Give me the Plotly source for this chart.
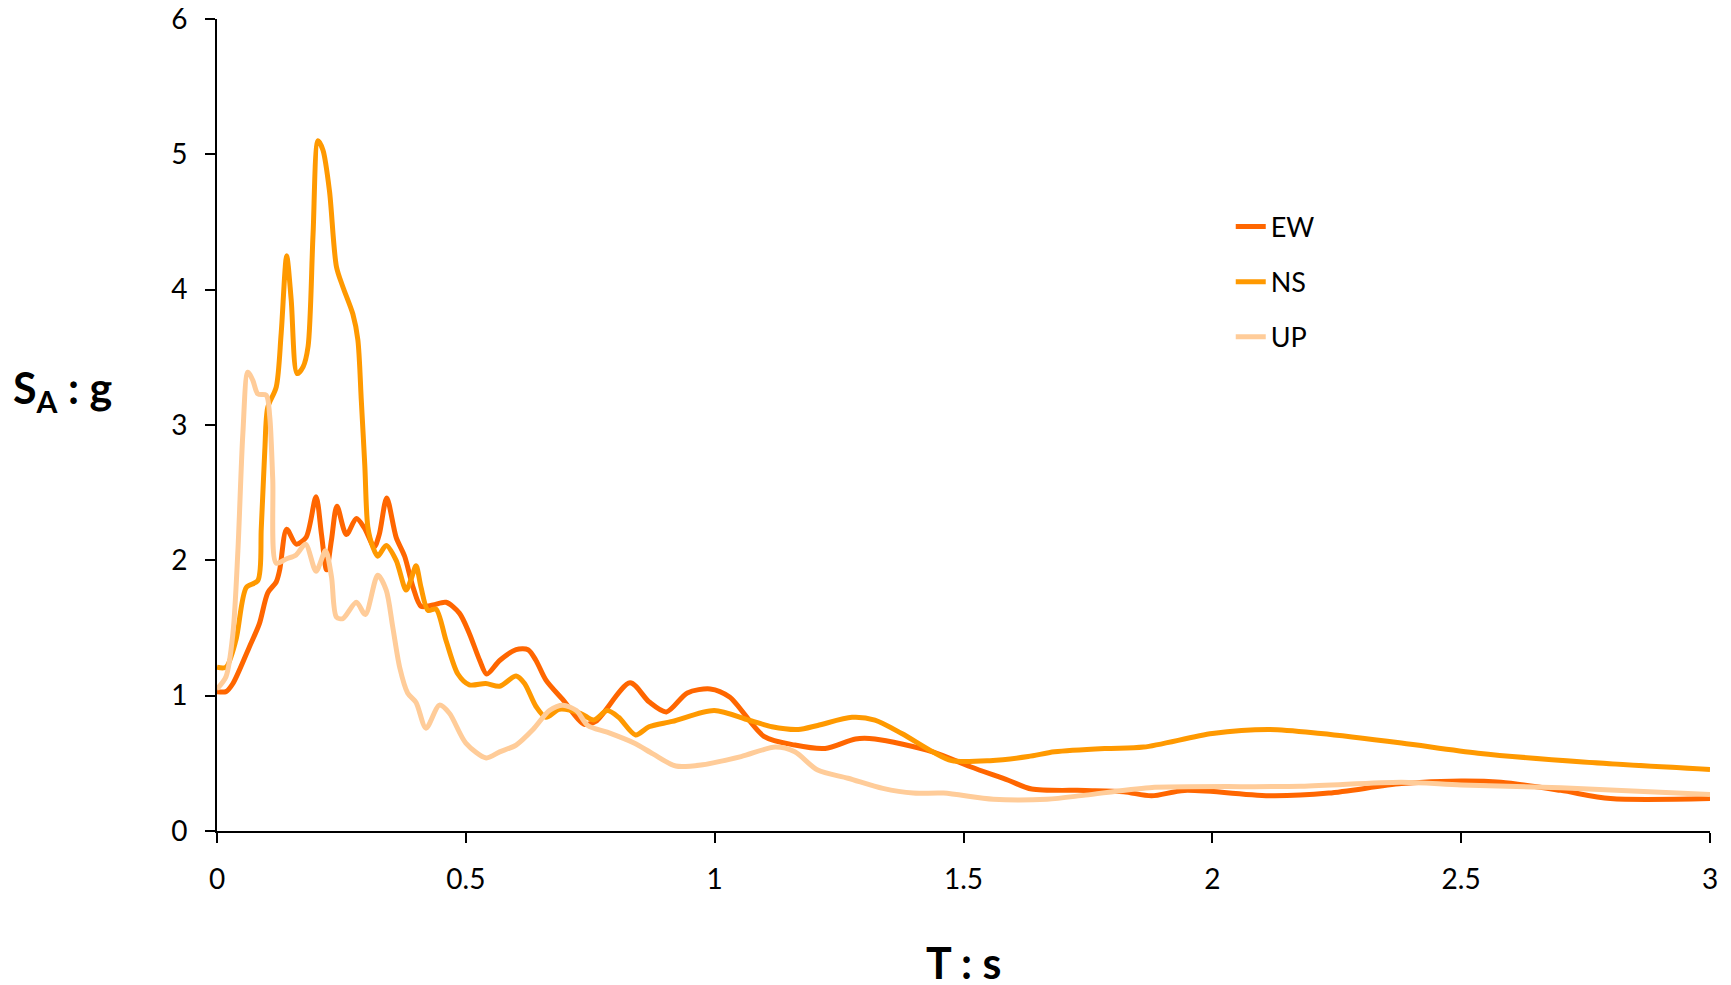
import plotly.graph_objects as go

# ---- data ----
ew_t = [0.0, 0.018, 0.032, 0.065, 0.085, 0.102, 0.119, 0.126, 0.14, 0.159, 0.179, 0.199, 0.21, 0.22, 0.23,
        0.241, 0.26, 0.28, 0.296, 0.316, 0.326, 0.341, 0.36, 0.377, 0.394, 0.41, 0.434, 0.46, 0.487, 0.507,
        0.528, 0.542, 0.568, 0.601, 0.625, 0.641, 0.661, 0.695, 0.737, 0.761, 0.83, 0.868, 0.903, 0.945,
        0.991, 1.03, 1.099, 1.161, 1.222, 1.283, 1.322, 1.438, 1.514, 1.59, 1.637, 1.745, 1.822, 1.878,
        1.944, 2.12, 2.234, 2.38, 2.5, 2.58, 2.7, 2.8, 3.0]
ew_sa = [1.03, 1.03, 1.09, 1.36, 1.53, 1.76, 1.84, 1.93, 2.23, 2.12, 2.17, 2.47, 2.19, 1.93, 2.15,
         2.40, 2.19, 2.31, 2.24, 2.10, 2.19, 2.46, 2.17, 2.03, 1.80, 1.66, 1.67, 1.69, 1.61, 1.46,
         1.26, 1.16, 1.26, 1.34, 1.34, 1.26, 1.115, 0.97, 0.79, 0.81, 1.095, 0.955, 0.88, 1.02,
         1.05, 0.99, 0.70, 0.635, 0.61, 0.68, 0.68, 0.585, 0.475, 0.375, 0.31, 0.30, 0.29, 0.26,
         0.30, 0.26, 0.28, 0.35, 0.37, 0.36, 0.30, 0.24, 0.24]

ns_t = [0.0, 0.018, 0.038, 0.059, 0.082, 0.089, 0.096, 0.102, 0.119, 0.129, 0.14, 0.149, 0.161, 0.173,
        0.183, 0.193, 0.203, 0.213, 0.226, 0.24, 0.253, 0.273, 0.283, 0.29, 0.297, 0.303, 0.313, 0.323,
        0.34, 0.36, 0.38, 0.39, 0.4, 0.41, 0.424, 0.44, 0.46, 0.484, 0.507, 0.54, 0.568, 0.601, 0.618,
        0.641, 0.661, 0.688, 0.73, 0.757, 0.784, 0.807, 0.841, 0.868, 0.915, 0.999, 1.068, 1.115, 1.168,
        1.207, 1.276, 1.322, 1.376, 1.438, 1.476, 1.553, 1.63, 1.683, 1.785, 1.862, 2.0, 2.114, 2.218,
        2.38, 2.534, 2.745, 3.0]
ns_sa = [1.21, 1.21, 1.41, 1.80, 1.85, 2.24, 2.81, 3.13, 3.28, 3.68, 4.25, 3.93, 3.38, 3.43,
         3.58, 4.41, 5.10, 5.03, 4.73, 4.17, 4.02, 3.82, 3.63, 3.18, 2.70, 2.25, 2.10, 2.03,
         2.11, 2.00, 1.78, 1.86, 1.96, 1.80, 1.63, 1.64, 1.41, 1.16, 1.08, 1.09, 1.07, 1.145, 1.09,
         0.92, 0.84, 0.90, 0.87, 0.82, 0.89, 0.84, 0.71, 0.77, 0.81, 0.89, 0.82, 0.77, 0.75,
         0.78, 0.84, 0.82, 0.72, 0.585, 0.52, 0.52, 0.55, 0.585, 0.61, 0.62, 0.72, 0.75, 0.72,
         0.65, 0.575, 0.51, 0.455]

up_t = [0.0, 0.018, 0.032, 0.042, 0.052, 0.062, 0.072, 0.082, 0.099, 0.106, 0.112, 0.119, 0.139, 0.159,
        0.178, 0.199, 0.218, 0.23, 0.24, 0.253, 0.28, 0.298, 0.323, 0.34, 0.353, 0.367, 0.383, 0.4, 0.42,
        0.447, 0.467, 0.5, 0.541, 0.568, 0.601, 0.635, 0.668, 0.695, 0.722, 0.745, 0.784, 0.838, 0.876,
        0.922, 0.976, 1.053, 1.122, 1.161, 1.207, 1.268, 1.338, 1.399, 1.46, 1.56, 1.668, 1.745, 1.874,
        2.178, 2.38, 2.5, 2.7, 3.0]
up_sa = [1.05, 1.14, 1.46, 2.07, 2.94, 3.39, 3.33, 3.23, 3.22, 3.06, 2.60, 1.98, 2.01, 2.04,
         2.12, 1.92, 2.07, 1.88, 1.58, 1.57, 1.69, 1.60, 1.89, 1.78, 1.51, 1.21, 1.02, 0.95, 0.76,
         0.93, 0.87, 0.65, 0.54, 0.585, 0.635, 0.75, 0.89, 0.93, 0.89, 0.78, 0.73, 0.65, 0.57,
         0.48, 0.49, 0.55, 0.62, 0.585, 0.45, 0.39, 0.315, 0.28, 0.28, 0.235, 0.235, 0.265, 0.32,
         0.33, 0.36, 0.34, 0.32, 0.27]

series_names = ["EW", "NS", "UP"]
series_colors = ["#FF6600", "#FF9900", "#FFCC99"]

x_ticks = [0, 0.5, 1, 1.5, 2, 2.5, 3]
x_tick_text = ["0", "0.5", "1", "1.5", "2", "2.5", "3"]
y_ticks = [0, 1, 2, 3, 4, 5, 6]

FONT = "Lato, Carlito, 'Open Sans', sans-serif"

fig = go.Figure()
for name, color, xs, ys in zip(series_names, series_colors,
                               [ew_t, ns_t, up_t], [ew_sa, ns_sa, up_sa]):
    fig.add_trace(go.Scatter(
        x=xs, y=ys, name=name, mode="lines", legendgroup=name,
        line=dict(color=color, width=5, shape="spline", smoothing=0.8),
    ))

axis_common = dict(
    showgrid=False, zeroline=False, showline=True, linecolor="black", linewidth=2,
    ticks="outside", ticklen=10, tickwidth=2, tickcolor="black", automargin=False,
    ticklabeloverflow="allow",
    tickfont=dict(family=FONT, size=28, color="black"),
)

# page body has an 8px default margin, so the figure is 8px smaller than the window
fig.update_layout(
    width=1723, height=977,
    margin=dict(l=209, r=21, t=11, b=154),
    paper_bgcolor="white", plot_bgcolor="white",
    font=dict(family=FONT, color="black"),
    xaxis=dict(range=[0, 3], tickvals=x_ticks, ticktext=x_tick_text,
               ticklabelstandoff=12, **axis_common),
    yaxis=dict(range=[0, 6], tickvals=y_ticks, ticklabelstandoff=12, **axis_common),
    showlegend=True,
    legend=dict(x=0.679, y=0.774, xanchor="left", yanchor="top",
                font=dict(family=FONT, size=27, color="black"),
                traceorder="grouped", tracegroupgap=17,
                bgcolor="rgba(0,0,0,0)"),
    annotations=[
        dict(text="<b>T : s</b>", xref="paper", yref="paper", x=0.5, y=-0.162,
             xanchor="center", yanchor="middle", showarrow=False,
             font=dict(family=FONT, size=43, color="black")),
        dict(text="<b>S<sub>A</sub> : g</b>", xref="paper", yref="paper", x=-0.138, y=0.543,
             xanchor="left", yanchor="middle", showarrow=False,
             font=dict(family=FONT, size=43, color="black")),
    ],
)

fig.write_html("out.html")
